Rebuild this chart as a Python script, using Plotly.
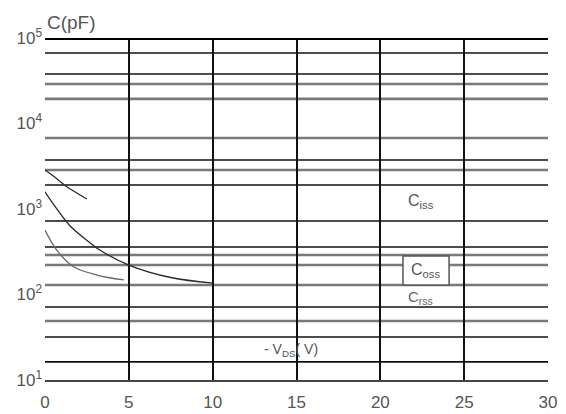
import math
import plotly.graph_objects as go

# ---- data ----
ciss_x = [0, 0.5, 1.3, 1.9, 2.5]
ciss_y = [2860, 2430, 1820, 1540, 1310]

coss_x = [0, 0.5, 1.5, 2.7, 3.1, 5, 7.5, 10]
coss_y = [1590, 1140, 632, 400, 347, 221, 158, 136]

crss_x = [0, 0.7, 1.7, 3.1, 4.7]
crss_y = [568, 331, 211, 169, 148]

# horizontal ruling lines of the datasheet grid (pF)
hlines = [66800, 37900, 29000, 19400, 6760, 3740, 2860, 1910, 724,
          360, 290, 221, 129, 71.4, 49.0, 31.8, 16.3]
hline_gray = [False, False, True, True, True, False, True, False, False,
              False, True, True, True, False, True, False, False]

x_ticks = [0, 5, 10, 15, 20, 25, 30]
y_ticks = [10, 100, 1000, 10000, 100000]
y_ticktext = ["10<sup>1</sup>", "10<sup>2</sup>", "10<sup>3</sup>",
              "10<sup>4</sup>", "10<sup>5</sup>"]

fig = go.Figure()

for xs, ys, col in [(ciss_x, ciss_y, "#2a2a2a"),
                    (coss_x, coss_y, "#2a2a2a"),
                    (crss_x, crss_y, "#666666")]:
    fig.add_trace(go.Scatter(x=xs, y=ys, mode="lines",
                             line=dict(color=col, width=1.3, shape="spline"),
                             showlegend=False, hoverinfo="skip"))

shapes = []
for v, g in zip(hlines, hline_gray):
    shapes.append(dict(type="line", xref="x", yref="y", x0=0, x1=30, y0=v, y1=v,
                       line=dict(color="#7a7a7a" if g else "#111111",
                                 width=2.6 if g else 1.6),
                       layer="below"))
# thick top border
shapes.append(dict(type="line", xref="x", yref="y", x0=0, x1=30, y0=1e5, y1=1e5,
                   line=dict(color="#000000", width=4)))
# Coss label box
shapes.append(dict(type="rect", xref="x", yref="y", x0=21.35, x1=24.1, y0=129, y1=282,
                   fillcolor="white", line=dict(color="#555555", width=1.5), layer="above"))

fig.update_layout(shapes=shapes)

labels = [
    (22.4, 1208, "C<sub>iss</sub>", 16, "#555555"),
    (22.7, 190, "C<sub>oss</sub>", 16, "#555555"),
    (22.4, 93.5, "C<sub>rss</sub>", 15, "#666666"),
    (14.7, 22.4, "- V<sub>DS</sub>( V)", 14, "#555555"),
]
annotations = [dict(xref="x", yref="y", x=x, y=math.log10(y), text=t,
                    showarrow=False, font=dict(size=s, color=c))
               for x, y, t, s, c in labels]
annotations.append(dict(xref="paper", yref="paper", x=0, y=1.0, yshift=16,
                        xanchor="left", yanchor="middle", text="C(pF)",
                        showarrow=False, font=dict(size=19, color="#555555")))
fig.update_layout(annotations=annotations)

fig.update_xaxes(range=[0, 30], tickvals=x_ticks, showgrid=True,
                 gridcolor="#111111", gridwidth=2, zeroline=False,
                 showline=True, linecolor="#444444", linewidth=2,
                 ticks="", ticklabelstandoff=6, automargin=False,
                 tickfont=dict(family="Liberation Sans", size=17, color="#555555"))
fig.update_yaxes(type="log", range=[1, 5], tickvals=y_ticks, ticktext=y_ticktext,
                 showgrid=False, zeroline=False, showline=False, ticks="",
                 ticklabelstandoff=2, automargin=False,
                 tickfont=dict(family="Liberation Sans", size=17, color="#555555"))

fig.update_layout(width=566, height=414,
                  margin=dict(l=45, r=18, t=38, b=34, autoexpand=False),
                  paper_bgcolor="white", plot_bgcolor="white",
                  font=dict(family="Liberation Sans"))

fig.write_html("out.html", config={"displayModeBar": False},
               post_script="document.body.style.margin='0';document.body.style.overflow='hidden';")
